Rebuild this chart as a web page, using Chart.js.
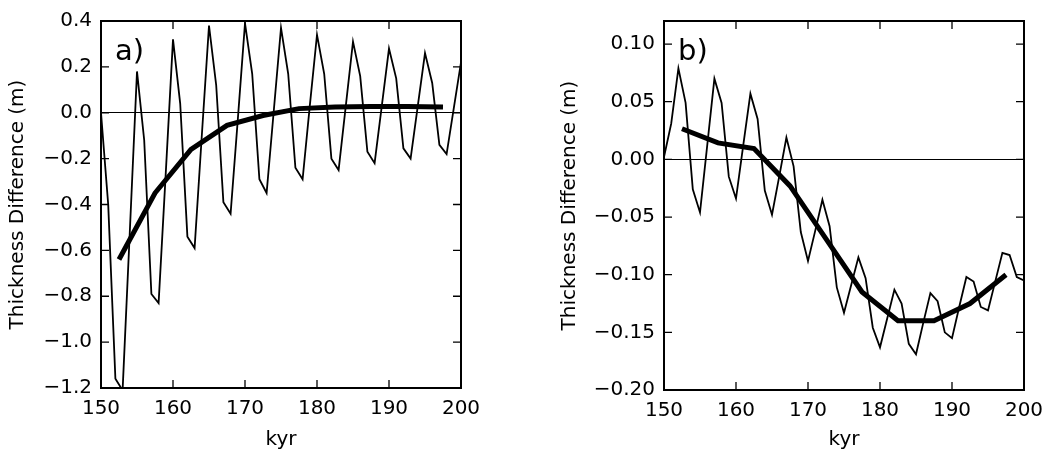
<!DOCTYPE html>
<html>
<head>
<meta charset="utf-8">
<script src="https://cdn.jsdelivr.net/npm/chart.js@4.4.1/dist/chart.umd.min.js"></script>
<style>
  body { margin: 0; background: #fff; }
  #wrap { position: relative; width: 1055px; height: 455px; }
  canvas { position: absolute; top: 0; }
</style>
</head>
<body>
<div id="wrap">
  <canvas id="chartA" width="527" height="455" style="left:0"></canvas>
  <canvas id="chartB" width="528" height="455" style="left:527px"></canvas>
</div>
<script>
// time axis (kyr), one sample per kyr
const kyr = [150, 151, 152, 153, 154, 155, 156, 157, 158, 159,
             160, 161, 162, 163, 164, 165, 166, 167, 168, 169,
             170, 171, 172, 173, 174, 175, 176, 177, 178, 179,
             180, 181, 182, 183, 184, 185, 186, 187, 188, 189,
             190, 191, 192, 193, 194, 195, 196, 197, 198, 199, 200];

// smoothed curve sample points (kyr)
const kyrMean = [152.5, 157.5, 162.5, 167.5, 172.5, 177.5, 182.5, 187.5, 192.5, 197.5];

// panel a
const thinA = [0.00, -0.40, -1.16, -1.21, -0.52, 0.18, -0.12, -0.79, -0.83, -0.26,
               0.32, 0.04, -0.54, -0.59, -0.10, 0.38, 0.12, -0.39, -0.44, -0.03,
               0.39, 0.17, -0.29, -0.35, 0.01, 0.37, 0.17, -0.24, -0.29, 0.03,
               0.34, 0.17, -0.20, -0.25, 0.03, 0.31, 0.16, -0.17, -0.22, 0.03,
               0.28, 0.15, -0.155, -0.20, 0.03, 0.26, 0.13, -0.14, -0.18, 0.02, 0.22];
const meanA = [-0.64, -0.35, -0.16, -0.055, -0.012, 0.018, 0.025, 0.027, 0.027, 0.025];

// panel b
const thinB = [0.002, 0.031, 0.079, 0.049, -0.026, -0.046, 0.012, 0.070, 0.049, -0.015,
               -0.034, 0.012, 0.057, 0.035, -0.027, -0.048, -0.015, 0.019, -0.006, -0.063,
               -0.088, -0.062, -0.035, -0.058, -0.111, -0.133, -0.109, -0.085, -0.103, -0.146,
               -0.163, -0.138, -0.113, -0.125, -0.160, -0.169, -0.142, -0.116, -0.123, -0.150,
               -0.155, -0.128, -0.102, -0.106, -0.128, -0.131, -0.106, -0.081, -0.083, -0.102, -0.105];
const meanB = [0.0266, 0.0143, 0.0094, -0.023, -0.069, -0.115, -0.140, -0.140, -0.125, -0.100];

const xTicks = [150, 160, 170, 180, 190, 200];
const yTicksA = [-1.2, -1.0, -0.8, -0.6, -0.4, -0.2, 0.0, 0.2, 0.4];
const yTicksB = [-0.20, -0.15, -0.10, -0.05, 0.00, 0.05, 0.10];

const FONT = '"DejaVu Sans", sans-serif';

const toPoints = (xs, ys) => xs.map((x, i) => ({ x: x, y: ys[i] }));

// frame, inward ticks on all four sides, panel letter
const frameTicks = {
  id: 'frameTicks',
  afterDraw(chart, args, o) {
    const { ctx, chartArea: a, scales } = chart;
    const len = 8;
    ctx.save();
    ctx.strokeStyle = '#000';
    ctx.lineWidth = 1.3;
    scales.x.ticks.forEach(t => {
      const px = scales.x.getPixelForValue(t.value);
      ctx.beginPath();
      ctx.moveTo(px, a.bottom); ctx.lineTo(px, a.bottom - len);
      ctx.moveTo(px, a.top); ctx.lineTo(px, a.top + len);
      ctx.stroke();
    });
    scales.y.ticks.forEach(t => {
      const py = scales.y.getPixelForValue(t.value);
      ctx.beginPath();
      ctx.moveTo(a.left, py); ctx.lineTo(a.left + len, py);
      ctx.moveTo(a.right, py); ctx.lineTo(a.right - len, py);
      ctx.stroke();
    });
    ctx.lineWidth = 2;
    ctx.strokeRect(a.left, a.top, a.right - a.left, a.bottom - a.top);
    ctx.fillStyle = '#000';
    ctx.font = '29px ' + FONT;
    ctx.textBaseline = 'alphabetic';
    ctx.fillText(o.label, a.left + 14, a.top + 39);
    ctx.restore();
  }
};

function makeChart(id, thin, mean, cfg) {
  return new Chart(document.getElementById(id), {
    type: 'line',
    data: {
      datasets: [
        { data: toPoints(kyr, thin), borderColor: '#000', borderWidth: 1.8, pointRadius: 0, tension: 0 },
        { data: toPoints(kyrMean, mean), borderColor: '#000', borderWidth: 5, pointRadius: 0, tension: 0 }
      ]
    },
    options: {
      responsive: false,
      animation: false,
      devicePixelRatio: 1,
      layout: { padding: cfg.padding },
      plugins: {
        legend: { display: false },
        tooltip: { enabled: false },
        frameTicks: { label: cfg.label }
      },
      scales: {
        x: {
          type: 'linear',
          min: 150, max: 200,
          afterBuildTicks: s => { s.ticks = xTicks.map(v => ({ value: v })); },
          afterFit: s => { s.height = cfg.xHeight; },
          grid: { display: false, drawTicks: false },
          border: { display: false },
          ticks: { color: '#000', font: { family: FONT, size: 20 }, padding: 9, maxRotation: 0 },
          title: { display: true, text: 'kyr', color: '#000', font: { family: FONT, size: 20 }, padding: { top: 0, bottom: 3 } }
        },
        y: {
          type: 'linear',
          min: cfg.ymin, max: cfg.ymax,
          afterBuildTicks: s => { s.ticks = cfg.yTicks.map(v => ({ value: v })); },
          afterFit: s => { s.width = cfg.yWidth; },
          grid: {
            drawTicks: false,
            lineWidth: 1,
            color: c => (c.tick && Math.abs(c.tick.value) < 1e-9) ? '#000' : 'rgba(0,0,0,0)'
          },
          border: { display: false },
          ticks: {
            color: '#000', font: { family: FONT, size: 20 }, padding: 9,
            callback: v => v.toFixed(cfg.digits).replace('-', '\u2212')
          },
          title: { display: true, text: 'Thickness Difference (m)', color: '#000', font: { family: FONT, size: 20 }, padding: { top: cfg.titlePad, bottom: 0 } }
        }
      }
    },
    plugins: [frameTicks]
  });
}

makeChart('chartA', thinA, meanA, {
  label: 'a)', ymin: -1.2, ymax: 0.4, yTicks: yTicksA, digits: 1,
  padding: { left: 0, top: 15, right: 66, bottom: 0 },
  xHeight: 67, yWidth: 101, titlePad: 6
});

makeChart('chartB', thinB, meanB, {
  label: 'b)', ymin: -0.2, ymax: 0.12, yTicks: yTicksB, digits: 2,
  padding: { left: 0, top: 16, right: 31, bottom: 0 },
  xHeight: 65, yWidth: 137, titlePad: 31
});
</script>
</body>
</html>
